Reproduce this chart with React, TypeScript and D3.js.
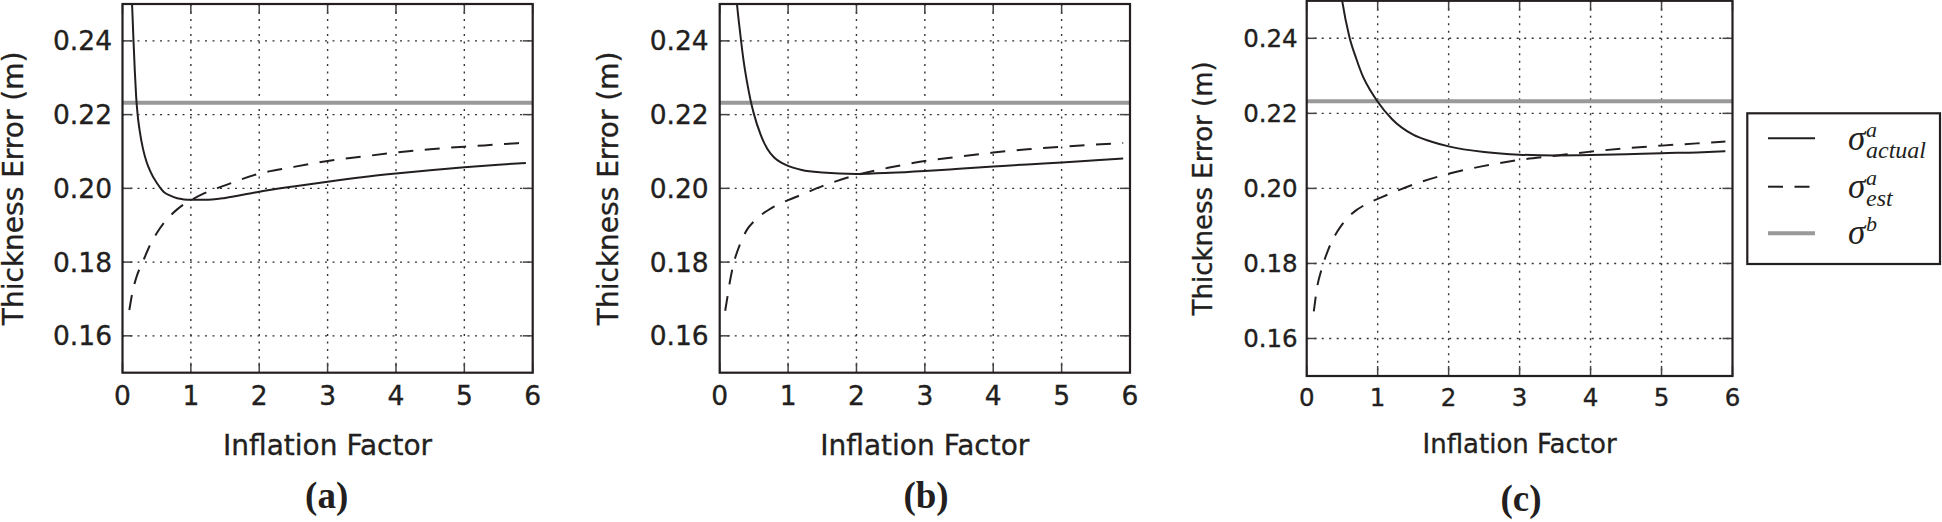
import React from 'react';
import * as d3 from 'd3';

// ---------- data ----------
const X_TICKS = [0, 1, 2, 3, 4, 5, 6];
const Y_TICKS = [0.16, 0.18, 0.2, 0.22, 0.24];
const X_DOMAIN: [number, number] = [0, 6];
const Y_DOMAIN: [number, number] = [0.15, 0.25];
const SIGMA_B = 0.2232;

const A_ACTUAL_X = [0.12, 0.14, 0.16, 0.18, 0.2, 0.22, 0.25, 0.3, 0.35, 0.4, 0.5, 0.6, 0.7, 0.8, 0.9, 1.0, 1.2, 1.5, 2.0, 2.5, 3.0, 3.5, 4.0, 4.5, 5.0, 5.5, 5.9];
const A_ACTUAL_Y = [0.262, 0.25, 0.2405, 0.2318, 0.2248, 0.2202, 0.2158, 0.2107, 0.2073, 0.2049, 0.2015, 0.1991, 0.198, 0.1973, 0.197, 0.1969, 0.1969, 0.1974, 0.1991, 0.2005, 0.2018, 0.203, 0.204, 0.2049, 0.2057, 0.2064, 0.2069];
const A_EST_X = [0.1, 0.15, 0.2, 0.3, 0.4, 0.5, 0.6, 0.7, 0.8, 0.9, 1.0, 1.2, 1.5, 2.0, 2.5, 3.0, 3.5, 4.0, 4.5, 5.0, 5.5, 5.9];
const A_EST_Y = [0.167, 0.1722, 0.1757, 0.1802, 0.1845, 0.1878, 0.1905, 0.1926, 0.1943, 0.1957, 0.1968, 0.1987, 0.2008, 0.204, 0.2058, 0.2074, 0.2086, 0.2097, 0.2106, 0.2113, 0.2119, 0.2124];

const B_ACTUAL_X = [0.2, 0.25, 0.3, 0.35, 0.4, 0.45, 0.5, 0.6, 0.7, 0.8, 0.9, 1.0, 1.2, 1.5, 2.0, 2.5, 3.0, 3.5, 4.0, 4.5, 5.0, 5.5, 5.9];
const B_ACTUAL_Y = [0.262, 0.2505, 0.242, 0.2345, 0.2288, 0.224, 0.2202, 0.2145, 0.2106, 0.2083, 0.207, 0.2061, 0.205, 0.2043, 0.2039, 0.2042, 0.2047, 0.2053, 0.2059, 0.2065, 0.207, 0.2076, 0.2081];
const B_EST_X = [0.08, 0.1, 0.15, 0.2, 0.3, 0.4, 0.5, 0.6, 0.7, 0.8, 0.9, 1.0, 1.2, 1.5, 2.0, 2.5, 3.0, 3.5, 4.0, 4.5, 5.0, 5.5, 5.9];
const B_EST_Y = [0.1668, 0.169, 0.1748, 0.1793, 0.185, 0.1888, 0.191, 0.1927, 0.194, 0.1951, 0.196, 0.1968, 0.1983, 0.2006, 0.2036, 0.2057, 0.2074, 0.2086, 0.2097, 0.2106, 0.2113, 0.2119, 0.2123];

const C_ACTUAL_X = [0.4, 0.45, 0.5, 0.6, 0.7, 0.8, 0.9, 1.0, 1.2, 1.5, 1.75, 2.0, 2.5, 3.0, 3.5, 4.0, 4.5, 5.0, 5.5, 5.9];
const C_ACTUAL_Y = [0.2645, 0.2565, 0.25, 0.2405, 0.2345, 0.2295, 0.226, 0.2231, 0.2185, 0.2143, 0.2125, 0.2112, 0.2097, 0.209, 0.2088, 0.2089, 0.2091, 0.2094, 0.2096, 0.2099];
const C_EST_X = [0.1, 0.15, 0.2, 0.3, 0.4, 0.5, 0.6, 0.7, 0.8, 0.9, 1.0, 1.2, 1.5, 2.0, 2.5, 3.0, 3.5, 4.0, 4.5, 5.0, 5.5, 5.9];
const C_EST_Y = [0.1672, 0.174, 0.1778, 0.1835, 0.1875, 0.1904, 0.1926, 0.1942, 0.1954, 0.1964, 0.1972, 0.1988, 0.201, 0.2039, 0.206, 0.2076, 0.2087, 0.2098, 0.2107, 0.2114, 0.212, 0.2125];

const CAPTIONS = ['(a)', '(b)', '(c)'];
const X_LABEL = 'Inflation Factor';
const Y_LABEL = 'Thickness Error (m)';

// ---------- layout ----------
const INK = '#231f20';
const GRAY = '#999999';

interface Layout {
  left: number; right: number; top: number; bottom: number;
  tickFont: number; labelFont: number; yLabelX: number;
  xTickBase: number; xLabelBase: number; capX: number; capBase: number; tickPad: number;
}

const LAYOUTS: Layout[] = [
  { left: 122.5, right: 532.7, top: 4, bottom: 372.7, tickFont: 26.5, labelFont: 28, yLabelX: 22.5, xTickBase: 404.5, xLabelBase: 455, capX: 326.7, capBase: 508, tickPad: 10.5 },
  { left: 719.7, right: 1130, top: 4, bottom: 372.7, tickFont: 26.5, labelFont: 28, yLabelX: 617.5, xTickBase: 404.5, xLabelBase: 455, capX: 926, capBase: 508, tickPad: 11 },
  { left: 1306.7, right: 1732.5, top: 0.8, bottom: 376, tickFont: 24.5, labelFont: 26, yLabelX: 1211.5, xTickBase: 405.5, xLabelBase: 453, capX: 1521, capBase: 511, tickPad: 9 },
];

const SERIES = [
  { ax: A_ACTUAL_X, ay: A_ACTUAL_Y, ex: A_EST_X, ey: A_EST_Y },
  { ax: B_ACTUAL_X, ay: B_ACTUAL_Y, ex: B_EST_X, ey: B_EST_Y },
  { ax: C_ACTUAL_X, ay: C_ACTUAL_Y, ex: C_EST_X, ey: C_EST_Y },
];

const SANS = 'DejaVu Sans, sans-serif';
const SERIF = 'Liberation Serif, Times New Roman, serif';
const DASH = '15,11.5';
const TICK_LEN = 10;
const TXT_STROKE = 0.35;

function Panel({ i }: { i: number }) {
  const L = LAYOUTS[i];
  const s = SERIES[i];
  const x = d3.scaleLinear().domain(X_DOMAIN).range([L.left, L.right]);
  const y = d3.scaleLinear().domain(Y_DOMAIN).range([L.bottom, L.top]);
  const line = d3
    .line<[number, number]>()
    .x((d) => x(d[0]))
    .y((d) => y(d[1]))
    .curve(d3.curveMonotoneX);
  const actual = line(s.ax.map((v, k) => [v, s.ay[k]] as [number, number])) || '';
  const est = line(s.ex.map((v, k) => [v, s.ey[k]] as [number, number])) || '';
  const clipId = `clip-${i}`;
  const cy = (L.top + L.bottom) / 2;
  const textProps = { fontFamily: SANS, fill: INK, stroke: INK, strokeWidth: TXT_STROKE };
  return (
    <g>
      <defs>
        <clipPath id={clipId}>
          <rect x={L.left} y={L.top} width={L.right - L.left} height={L.bottom - L.top} />
        </clipPath>
      </defs>
      {/* grid */}
      {X_TICKS.filter((t) => t > X_DOMAIN[0] && t < X_DOMAIN[1]).map((t) => (
        <line key={`gx${t}`} x1={x(t)} x2={x(t)} y1={L.top} y2={L.bottom} stroke="#333" strokeWidth={1.4} strokeDasharray="2,5.5" />
      ))}
      {Y_TICKS.map((t) => (
        <line key={`gy${t}`} x1={L.left} x2={L.right} y1={y(t)} y2={y(t)} stroke="#333" strokeWidth={1.4} strokeDasharray="2,5.5" />
      ))}
      {/* ticks (inward, all four sides) */}
      {X_TICKS.map((t) => (
        <g key={`tx${t}`}>
          <line x1={x(t)} x2={x(t)} y1={L.bottom} y2={L.bottom - TICK_LEN} stroke="#444" strokeWidth={1.5} />
          <line x1={x(t)} x2={x(t)} y1={L.top} y2={L.top + TICK_LEN} stroke="#444" strokeWidth={1.5} />
        </g>
      ))}
      {Y_TICKS.map((t) => (
        <g key={`ty${t}`}>
          <line x1={L.left} x2={L.left + TICK_LEN} y1={y(t)} y2={y(t)} stroke="#444" strokeWidth={1.5} />
          <line x1={L.right} x2={L.right - TICK_LEN} y1={y(t)} y2={y(t)} stroke="#444" strokeWidth={1.5} />
        </g>
      ))}
      {/* data */}
      <g clipPath={`url(#${clipId})`}>
        <line x1={L.left} x2={L.right} y1={y(SIGMA_B)} y2={y(SIGMA_B)} stroke={GRAY} strokeWidth={4} />
        <path d={est} fill="none" stroke={INK} strokeWidth={2} strokeDasharray={DASH} />
        <path d={actual} fill="none" stroke={INK} strokeWidth={2} />
      </g>
      {/* frame */}
      <rect x={L.left} y={L.top} width={L.right - L.left} height={L.bottom - L.top} fill="none" stroke={INK} strokeWidth={2.2} />
      {/* tick labels */}
      {X_TICKS.map((t) => (
        <text key={`lx${t}`} x={x(t)} y={L.xTickBase} textAnchor="middle" fontSize={L.tickFont} {...textProps}>
          {d3.format('d')(t)}
        </text>
      ))}
      {Y_TICKS.map((t) => (
        <text key={`ly${t}`} x={L.left - L.tickPad} y={y(t)} dy="0.36em" textAnchor="end" fontSize={L.tickFont} {...textProps}>
          {d3.format('.2f')(t)}
        </text>
      ))}
      {/* axis labels */}
      <text x={(L.left + L.right) / 2} y={L.xLabelBase} textAnchor="middle" fontSize={L.labelFont} {...textProps}>
        {X_LABEL}
      </text>
      <text transform={`translate(${L.yLabelX},${cy}) rotate(-90)`} textAnchor="middle" fontSize={L.labelFont} {...textProps}>
        {Y_LABEL}
      </text>
      {/* caption */}
      <text x={L.capX} y={L.capBase} textAnchor="middle" fontFamily={SERIF} fontWeight="bold" fontSize={37} fill={INK}>
        {CAPTIONS[i]}
      </text>
    </g>
  );
}

const LEGEND_ROWS = [
  { key: 'actual', sup: 'a', sub: 'actual', stroke: INK, width: 2, dash: undefined as string | undefined },
  { key: 'est', sup: 'a', sub: 'est', stroke: INK, width: 2, dash: DASH },
  { key: 'b', sup: 'b', sub: '', stroke: GRAY, width: 4, dash: undefined as string | undefined },
];

function Legend() {
  const box = { x: 1747.3, y: 113.3, w: 192.7, h: 150.7 };
  const rowY = [138.3, 186.7, 233.3];
  const baseY = [150, 198.3, 244];
  return (
    <g>
      <rect x={box.x} y={box.y} width={box.w} height={box.h} fill="#fff" stroke={INK} strokeWidth={2.2} />
      {LEGEND_ROWS.map((r, k) => (
        <g key={r.key}>
          <line x1={1768} x2={1815} y1={rowY[k]} y2={rowY[k]} stroke={r.stroke} strokeWidth={r.width} strokeDasharray={r.dash} />
          <text x={1848} y={baseY[k]} fontFamily={SERIF} fontStyle="italic" fontSize={35} fill={INK}>
            σ
          </text>
          <text x={1866} y={baseY[k] - 13} fontFamily={SERIF} fontStyle="italic" fontSize={22} fill={INK}>
            {r.sup}
          </text>
          {r.sub && (
            <text x={1866} y={baseY[k] + 7.5} fontFamily={SERIF} fontStyle="italic" fontSize={24} fill={INK}>
              {r.sub}
            </text>
          )}
        </g>
      ))}
    </g>
  );
}

export default function App() {
  return (
    <svg width={1942} height={522} viewBox="0 0 1942 522" style={{ position: 'absolute', left: 0, top: 0, background: '#fff' }}>
      <rect x={0} y={0} width={1942} height={522} fill="#fff" />
      {[0, 1, 2].map((i) => (
        <Panel key={i} i={i} />
      ))}
      <Legend />
    </svg>
  );
}
